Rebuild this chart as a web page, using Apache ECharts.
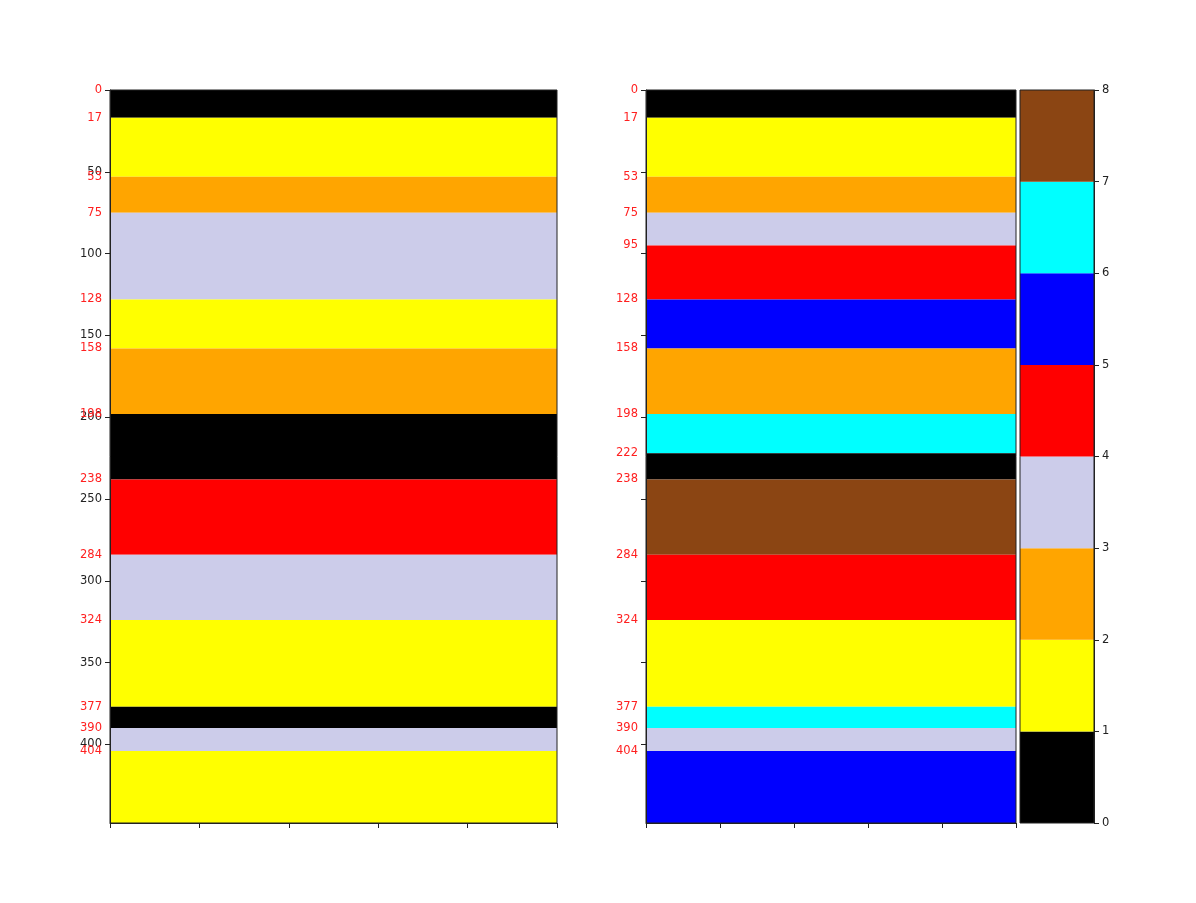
<!DOCTYPE html>
<html>
<head>
<meta charset="utf-8">
<script src="https://cdn.jsdelivr.net/npm/echarts@6/dist/echarts.min.js"></script>
<style>
  html, body { margin: 0; padding: 0; background: #fff; }
  #chart { width: 1196px; height: 903px; }
</style>
</head>
<body>
<div id="chart"></div>
<script>
// facies colours, index = code 0..7
var faciesColors = ["#000000", "#ffff00", "#ffa500", "#ccccea", "#ff0000", "#0000ff", "#00ffff", "#8b4513"];

var maxDepth = 448;

// layer tops (depth) and facies code, left and right panel
var leftTops = [0, 17, 53, 75, 128, 158, 198, 238, 284, 324, 377, 390, 404];
var leftCodes = [0, 1, 2, 3, 1, 2, 0, 4, 3, 1, 0, 3, 1];

var rightTops = [0, 17, 53, 75, 95, 128, 158, 198, 222, 238, 284, 324, 377, 390, 404];
var rightCodes = [0, 1, 2, 3, 4, 5, 2, 6, 0, 7, 4, 1, 6, 3, 5];

var depthTicks = [0, 50, 100, 150, 200, 250, 300, 350, 400];
var depthLabels = [50, 100, 150, 200, 250, 300, 350, 400];
var colorbarTicks = [0, 1, 2, 3, 4, 5, 6, 7, 8];

function layers(tops, codes) {
  var out = [];
  for (var i = 0; i < tops.length; i++) {
    var bottom = i + 1 < tops.length ? tops[i + 1] : maxDepth;
    out.push([tops[i], bottom, codes[i]]);
  }
  return out;
}

function renderBand(params, api) {
  var p1 = api.coord([0, api.value(0)]);
  var p2 = api.coord([1, api.value(1)]);
  return {
    type: "rect",
    shape: { x: p1[0], y: p1[1], width: p2[0] - p1[0], height: p2[1] - p1[1] },
    style: { fill: faciesColors[api.value(2)] },
  };
}

var font = "DejaVu Sans";
var fontSize = 11.5;

function gridBox(left, width) {
  return {
    left: left, top: 90, width: width, height: 733,
    show: true, borderColor: "#222", borderWidth: 1,
    backgroundColor: "transparent", z: 10,
  };
}

function xAx(gridIndex) {
  return {
    gridIndex: gridIndex, type: "value", min: 0, max: 1, interval: 0.2,
    position: "bottom",
    axisLine: { show: true, onZero: false, lineStyle: { color: "#222" } },
    axisTick: { show: true, length: 5, inside: false, lineStyle: { color: "#222" } },
    axisLabel: { show: false },
    splitLine: { show: false },
    z: 11,
  };
}

function depthAxis(gridIndex, showLabels) {
  return {
    gridIndex: gridIndex, type: "value", min: 0, max: maxDepth, inverse: true,
    position: "left",
    axisLine: { show: true, onZero: false, lineStyle: { color: "#222" } },
    axisTick: { show: true, length: 5, customValues: depthTicks, lineStyle: { color: "#222" } },
    axisLabel: {
      show: showLabels, customValues: depthLabels, color: "#222",
      fontFamily: font, fontSize: fontSize, margin: 8,
    },
    splitLine: { show: false },
    z: 11,
  };
}

function topsAxis(gridIndex, tops) {
  return {
    gridIndex: gridIndex, type: "value", min: 0, max: maxDepth, inverse: true,
    position: "left",
    axisLine: { show: false, onZero: false },
    axisTick: { show: false },
    axisLabel: {
      show: true, customValues: tops, color: "#ff2020",
      fontFamily: font, fontSize: fontSize, margin: 8,
    },
    splitLine: { show: false },
    z: 12,
  };
}

var colorbarData = colorbarTicks.slice(0, 8).map(function (v) {
  return [v, v + 1, v];
});

function renderColorbar(params, api) {
  var p1 = api.coord([0, api.value(1)]);
  var p2 = api.coord([1, api.value(0)]);
  return {
    type: "rect",
    shape: { x: p1[0], y: p1[1], width: p2[0] - p1[0], height: p2[1] - p1[1] },
    style: { fill: faciesColors[api.value(2)] },
  };
}

var chart = echarts.init(document.getElementById("chart"), null, { renderer: "canvas" });
var option = {
  animation: false,
  backgroundColor: "#ffffff",
  grid: [gridBox(110, 447), gridBox(646, 370), gridBox(1020, 74)],
  xAxis: [
    xAx(0),
    xAx(1),
    {
      gridIndex: 2, type: "value", min: 0, max: 1,
      axisLine: { show: false, onZero: false }, axisTick: { show: false },
      axisLabel: { show: false }, splitLine: { show: false },
    },
  ],
  yAxis: [
    depthAxis(0, true),
    topsAxis(0, leftTops),
    depthAxis(1, false),
    topsAxis(1, rightTops),
    {
      gridIndex: 2, type: "value", min: 0, max: 8, interval: 1, position: "right",
      axisLine: { show: true, onZero: false, lineStyle: { color: "#222" } },
      axisTick: { show: true, length: 5, lineStyle: { color: "#222" } },
      axisLabel: { color: "#222", fontFamily: font, fontSize: fontSize, margin: 8 },
      splitLine: { show: false },
    },
  ],
  series: [
    {
      type: "custom", xAxisIndex: 0, yAxisIndex: 0,
      renderItem: renderBand, encode: { y: [0, 1] },
      data: layers(leftTops, leftCodes),
    },
    {
      type: "custom", xAxisIndex: 1, yAxisIndex: 2,
      renderItem: renderBand, encode: { y: [0, 1] },
      data: layers(rightTops, rightCodes),
    },
    {
      type: "custom", xAxisIndex: 2, yAxisIndex: 4,
      renderItem: renderColorbar, encode: { y: [0, 1] },
      data: colorbarData,
    },
  ],
};
chart.setOption(option);
</script>
</body>
</html>
